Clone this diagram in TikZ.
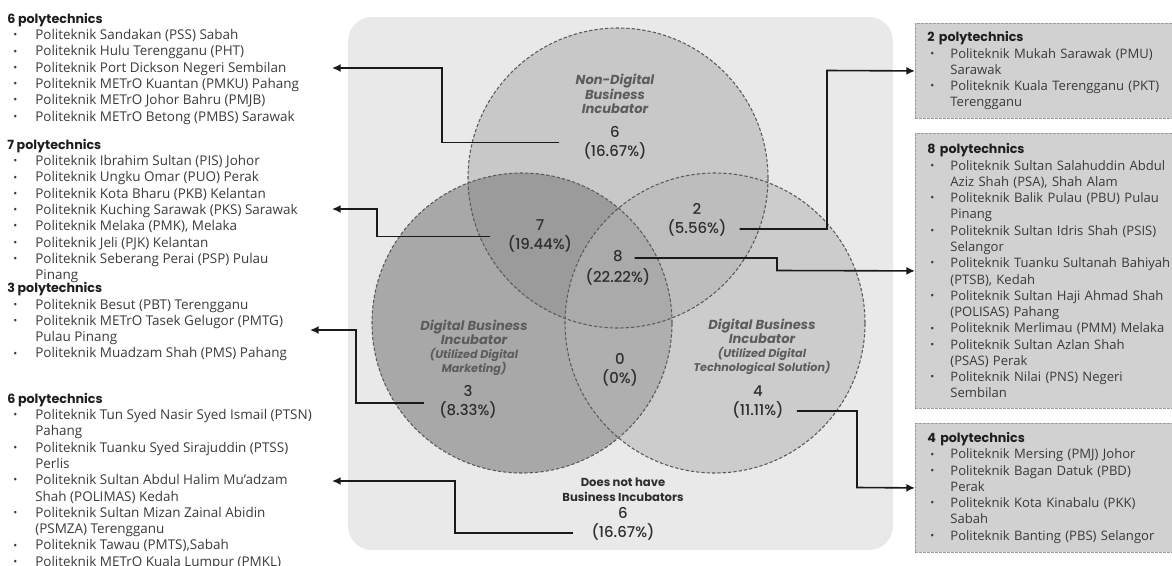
\documentclass[tikz,border=0pt]{standalone}
\usepackage{fontspec}
\usetikzlibrary{arrows.meta}
\setmainfont{Open Sans}
\newfontfamily\pop{Poppins}
\newfontfamily\popmed{Poppins Medium}

\definecolor{panelcol}{HTML}{E9E9E9}
\definecolor{leftcol}{HTML}{A8A8A8}
\definecolor{topcol}{HTML}{818181}
\definecolor{rightcol}{HTML}{B6B6B6}
\definecolor{edgecol}{HTML}{5A5A5A}
\definecolor{titlecol}{HTML}{5C5C5C}
\definecolor{numcol}{HTML}{2E2E2E}
\definecolor{listcol}{HTML}{3A3A3A}
\definecolor{hdcol}{HTML}{1E1E1E}
\definecolor{boxcol}{HTML}{D1D1D1}
\definecolor{boxedge}{HTML}{9C9C9C}
\definecolor{linecol}{HTML}{1A1A1A}

\newcommand{\listsize}{\fontsize{10.1}{12.2}\selectfont}
\newcommand{\boxsize}{\fontsize{9.8}{12.2}\selectfont}
\newcommand{\hd}[1]{{\pop\bfseries\color{hdcol}\fontsize{9.5}{12.2}\selectfont#1}}
\newcommand{\bdot}{\raisebox{0.6pt}{\footnotesize\textbullet}}
\newcommand{\lb}{\hspace*{4.5pt}\makebox[16.5pt][l]{\bdot}}
\newcommand{\lc}{\hspace*{21pt}}
\newcommand{\rb}{\hspace*{2.25pt}\makebox[15pt][l]{\bdot}}
\newcommand{\rc}{\hspace*{17.25pt}}
\newcommand{\subt}[1]{{\fontsize{8.4}{9.75}\selectfont #1}}

\begin{document}
\begin{tikzpicture}[x=0.75pt,y=0.75pt,
  conn/.style={draw=linecol, line width=1.2pt, -{Latex[length=6.5pt,width=6pt]}},
  vennedge/.style={draw=edgecol, line width=0.8pt, dash pattern=on 2.5pt off 1.5pt},
  vtitle/.style={font=\pop\bfseries\itshape\fontsize{9.8}{10.5}\selectfont, text=titlecol, align=center},
  vnum/.style={font=\popmed\fontsize{11.2}{14.25}\selectfont, text=numcol, align=center},
  vnone/.style={font=\pop\bfseries\fontsize{8.7}{11}\selectfont, text=numcol, align=center},
  leftlist/.style={font=\listsize, text=listcol, align=left, anchor=north west},
  listbox/.style={draw=boxedge, dash pattern=on 2pt off 1pt, line width=0.6pt, fill=boxcol,
    inner xsep=9pt, inner ysep=0pt, text width=200pt, align=left, anchor=north west,
    font=\boxsize, text=listcol}]
\tikzstyle{every node}+=[inner sep=0pt]
\useasboundingbox (0,0) rectangle (1172,-565);
% panel and the three sets
\fill [panelcol, rounded corners=18pt] (348,-17) rectangle (893,-550);
\fill [leftcol] (522,-323) circle (150);
\fill [topcol, fill opacity=0.31] (618,-178) circle (150);
\fill [rightcol, fill opacity=0.56] (715,-323) circle (150);
\draw [vennedge] (522,-323) circle (150);
\draw [vennedge] (618,-178) circle (150);
\draw [vennedge] (715,-323) circle (150);
% labels in the sets
\node [vtitle] (ndtitle) at (615,-94) {Non-Digital\\Business\\Incubator};
\node [vnum] (ndnum) at (615,-142.5) {6\\(16.67\%)};
\node [vnum] (n7) at (540,-235.5) {7\\(19.44\%)};
\node [vnum] (n2) at (697,-220) {2\\(5.56\%)};
\node [vnum] (n8) at (618,-268) {8\\[1pt](22.22\%)};
\node [vtitle] (dmtitle) at (474,-348) {Digital Business\\Incubator\\\subt{(Utilized Digital}\\\subt{Marketing)}};
\node [vnum] (n3) at (468,-402) {3\\(8.33\%)};
\node [vnum] (n0) at (620,-369.5) {0\\(0\%)};
\node [vtitle] (dttitle) at (762,-347) {Digital Business\\Incubator\\\subt{(Utilized Digital}\\\subt{Technological Solution)}};
\node [vnum] (n4) at (758,-402) {4\\(11.11\%)};
\node [vnone] (nonetitle) at (623,-489.5) {Does not have\\Business Incubators};
\node [vnum] (nonenum) at (623,-524) {6\\(16.67\%)};
% lists on the left
\node [leftlist] (ndlist) at (7,-13) {\hd{6 polytechnics}\\
\lb Politeknik Sandakan (PSS) Sabah\\
\lb Politeknik Hulu Terengganu (PHT)\\
\lb Politeknik Port Dickson Negeri Sembilan\\
\lb Politeknik METrO Kuantan (PMKU) Pahang\\
\lb Politeknik METrO Johor Bahru (PMJB)\\
\lb Politeknik METrO Betong (PMBS) Sarawak};
\node [leftlist] (dmndlist) at (7,-139) {\hd{7 polytechnics}\\
\lb Politeknik Ibrahim Sultan (PIS) Johor\\
\lb Politeknik Ungku Omar (PUO) Perak\\
\lb Politeknik Kota Bharu (PKB) Kelantan\\
\lb Politeknik Kuching Sarawak (PKS) Sarawak\\
\lb Politeknik Melaka (PMK), Melaka\\
\lb Politeknik Jeli (PJK) Kelantan\\
\lb Politeknik Seberang Perai (PSP) Pulau\\
\lc Pinang};
\node [leftlist] (dmlist) at (7,-282.5) {\hd{3 polytechnics}\\
\lb Politeknik Besut (PBT) Terengganu\\
\lb Politeknik METrO Tasek Gelugor (PMTG)\\
\lc Pulau Pinang\\
\lb Politeknik Muadzam Shah (PMS) Pahang};
\node [leftlist] (nonelist) at (7,-393) {\hd{6 polytechnics}\\
\lb Politeknik Tun Syed Nasir Syed Ismail (PTSN)\\
\lc Pahang\\
\lb Politeknik Tuanku Syed Sirajuddin (PTSS)\\
\lc Perlis\\
\lb Politeknik Sultan Abdul Halim Mu'adzam\\
\lc Shah (POLIMAS) Kedah\\
\lb Politeknik Sultan Mizan Zainal Abidin\\
\lc (PSMZA) Terengganu\\
\lb Politeknik Tawau (PMTS),Sabah\\
\lb Politeknik METrO Kuala Lumpur (PMKL)};
% boxes on the right
\node [listbox, minimum height=71.25pt] (ntbox) at (915,-23) {\hd{2 polytechnics}\\
\rb Politeknik Mukah Sarawak (PMU)\\
\rc Sarawak\\
\rb Politeknik Kuala Terengganu (PKT)\\
\rc Terengganu};
\node [listbox, minimum height=206.25pt] (allbox) at (915,-133) {\hd{8 polytechnics}\\
\rb Politeknik Sultan Salahuddin Abdul\\
\rc Aziz Shah (PSA), Shah Alam\\
\rb Politeknik Balik Pulau (PBU) Pulau\\
\rc Pinang\\
\rb Politeknik Sultan Idris Shah (PSIS)\\
\rc Selangor\\
\rb Politeknik Tuanku Sultanah Bahiyah\\
\rc (PTSB), Kedah\\
\rb Politeknik Sultan Haji Ahmad Shah\\
\rc (POLISAS) Pahang\\
\rb Politeknik Merlimau (PMM) Melaka\\
\rb Politeknik Sultan Azlan Shah\\
\rc (PSAS) Perak\\
\rb Politeknik Nilai (PNS) Negeri\\
\rc Sembilan};
\node [listbox, minimum height=96.75pt] (dtbox) at (915,-423) {\hd{4 polytechnics}\\
\rb Politeknik Mersing (PMJ) Johor\\
\rb Politeknik Bagan Datuk (PBD)\\
\rc Perak\\
\rb Politeknik Kota Kinabalu (PKK)\\
\rc Sabah\\
\rb Politeknik Banting (PBS) Selangor};
% bends and arrow ends
\coordinate (ndtip) at (332,-68);
\coordinate (ndbend) at (442,-68);
\coordinate (dmndtip) at (332,-209);
\coordinate (dmndbend) at (377,-209);
\coordinate (dmtip) at (310,-330);
\coordinate (dmbend) at (356,-330);
\coordinate (nonetip) at (332,-481);
\coordinate (nonebend) at (455,-481);
\coordinate (ntbend) at (827,-70.5);
\coordinate (allbend) at (777,-270.5);
\coordinate (dtbend) at (857,-487.5);
% connectors
\draw [conn] ([shift={(-24,0)}]ndnum.west) -| (ndbend) -- (ndtip);
\draw [conn] ([shift={(-18,-1)}]n7.west) -| (dmndbend) -- (dmndtip);
\draw [conn] ([shift={(-15,-1)}]n3.west) -| (dmbend) -- (dmtip);
\draw [conn] ([shift={(-18,-9)}]nonenum.west) -| (nonebend) -- (nonetip);
\draw [conn] ([shift={(13,-9)}]n2.east) -| (ntbend) -- (ntbox.west);
\draw [conn] ([shift={(-16,10)}]n8.east) -| (allbend) -- (allbox.west);
\draw [conn] ([shift={(13,-9)}]n4.east) -| (dtbend) -- (dtbox.west);
\end{tikzpicture}
\end{document}
